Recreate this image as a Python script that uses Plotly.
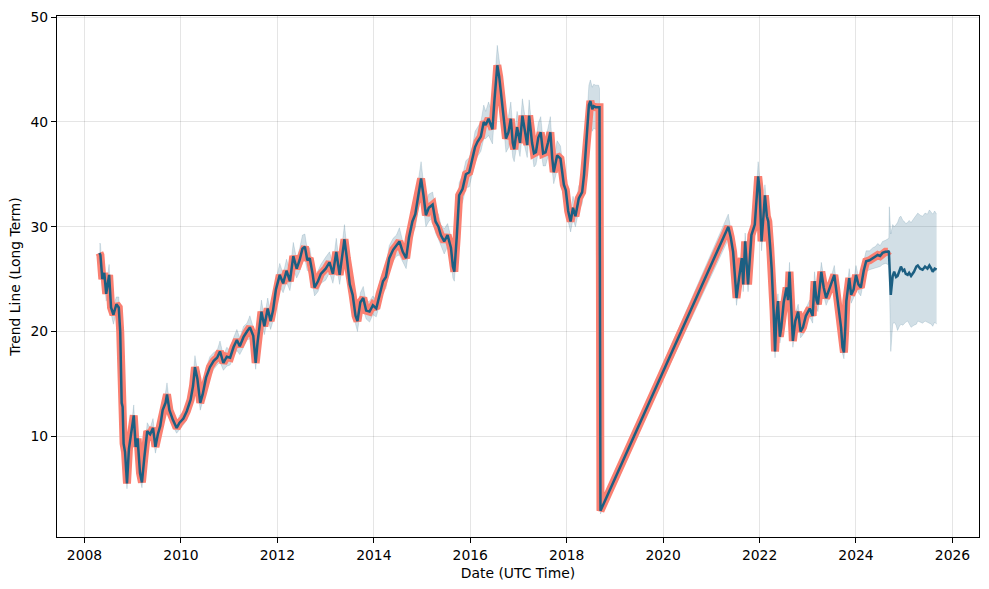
import pandas as pd
import plotly.graph_objects as go

# ---------------- data ----------------
# decimal-year dates of the observed / fitted trend
t_hist = [
    2008.31, 2008.33, 2008.37, 2008.41, 2008.45, 2008.51, 2008.55, 2008.60, 2008.66, 2008.71,
    2008.74, 2008.76, 2008.77, 2008.79, 2008.81, 2008.84, 2008.88, 2008.92, 2008.96, 2009.02,
    2009.06, 2009.10, 2009.15, 2009.19, 2009.24, 2009.30, 2009.36, 2009.42, 2009.47, 2009.52,
    2009.57, 2009.62, 2009.68, 2009.71, 2009.76, 2009.83, 2009.91, 2009.97, 2010.05, 2010.12,
    2010.20, 2010.25, 2010.29, 2010.34, 2010.40, 2010.45, 2010.52, 2010.60, 2010.68, 2010.75,
    2010.81, 2010.88, 2010.95, 2011.02, 2011.09, 2011.16, 2011.22, 2011.30, 2011.37, 2011.43,
    2011.50, 2011.55, 2011.59, 2011.67, 2011.73, 2011.80, 2011.86, 2011.91, 2011.97, 2012.05,
    2012.12, 2012.19, 2012.26, 2012.33, 2012.40, 2012.46, 2012.52, 2012.57, 2012.62, 2012.67,
    2012.73, 2012.77, 2012.84, 2012.90, 2013.00, 2013.08, 2013.15, 2013.22, 2013.29, 2013.35,
    2013.39, 2013.44, 2013.50, 2013.56, 2013.62, 2013.66, 2013.72, 2013.78, 2013.84, 2013.91,
    2013.98, 2014.05, 2014.12, 2014.19, 2014.25, 2014.32, 2014.40, 2014.47, 2014.53, 2014.60,
    2014.67, 2014.73, 2014.80, 2014.86, 2014.92, 2014.98, 2015.03, 2015.08, 2015.14, 2015.22,
    2015.28, 2015.34, 2015.39, 2015.46, 2015.53, 2015.60, 2015.64, 2015.67, 2015.72, 2015.77,
    2015.84, 2015.91, 2015.98, 2016.05, 2016.10, 2016.15, 2016.22, 2016.28, 2016.32, 2016.38,
    2016.46, 2016.50, 2016.56, 2016.60, 2016.63, 2016.69, 2016.74, 2016.79, 2016.84, 2016.88,
    2016.91, 2016.97, 2017.03, 2017.08, 2017.13, 2017.18, 2017.22, 2017.28, 2017.32, 2017.36,
    2017.41, 2017.46, 2017.51, 2017.56, 2017.61, 2017.66, 2017.70, 2017.73, 2017.80, 2017.87,
    2017.94, 2017.98, 2018.03, 2018.08, 2018.13, 2018.18, 2018.25, 2018.32, 2018.36, 2018.39,
    2018.43, 2018.46, 2018.49, 2018.53, 2018.56, 2018.60, 2018.66, 2018.68, 2018.70, 2021.35,
    2021.40, 2021.45, 2021.50, 2021.52, 2021.57, 2021.63, 2021.66, 2021.70, 2021.76, 2021.80,
    2021.83, 2021.90, 2021.94, 2021.97, 2022.00, 2022.04, 2022.08, 2022.11, 2022.15, 2022.18,
    2022.22, 2022.25, 2022.29, 2022.32, 2022.35, 2022.38, 2022.42, 2022.45, 2022.50, 2022.56,
    2022.59, 2022.62, 2022.66, 2022.69, 2022.74, 2022.80, 2022.85, 2022.90, 2022.96, 2023.04,
    2023.10, 2023.14, 2023.18, 2023.21, 2023.28, 2023.33, 2023.38, 2023.43, 2023.49, 2023.55,
    2023.59, 2023.62, 2023.66, 2023.69, 2023.72, 2023.75, 2023.78, 2023.80, 2023.86, 2023.90,
    2023.95, 2024.00, 2024.05, 2024.10, 2024.16, 2024.21, 2024.28, 2024.35, 2024.40, 2024.45,
    2024.50, 2024.55, 2024.61, 2024.66, 2024.68,
]
trend_hist = [
    27.5, 27.3, 25.0, 25.6, 23.6, 25.4, 22.3, 21.6, 22.6, 22.3,
    20.0, 16.6, 13.2, 12.8, 9.3, 8.5, 5.5, 8.8, 10.0, 12.0,
    9.0, 9.8, 6.5, 5.6, 8.0, 10.5, 10.2, 10.8, 9.0, 10.2,
    11.0, 12.5, 13.2, 14.0, 12.5, 11.6, 10.8, 11.3, 11.7, 12.4,
    13.5, 14.8, 16.6, 15.5, 13.2, 14.0, 15.6, 16.6, 17.2, 17.5,
    18.1, 17.0, 17.6, 17.5, 18.5, 19.2, 18.6, 19.5, 20.0, 20.4,
    19.6, 17.0, 19.0, 21.9, 20.5, 22.2, 21.0, 22.0, 24.0, 25.4,
    24.6, 25.8, 24.8, 27.2, 26.0, 26.8, 27.9, 28.1, 26.8, 27.0,
    25.5, 24.2, 24.8, 25.5, 26.0, 26.6, 25.5, 27.6, 25.4, 27.5,
    28.8, 27.0, 24.5, 23.5, 21.5, 21.0, 22.8, 23.2, 22.0, 21.9,
    22.5, 22.2, 23.6, 24.8, 25.2, 27.0, 27.8, 28.2, 28.6, 27.6,
    27.0, 29.0, 30.5, 31.2, 33.0, 34.6, 33.0, 31.1, 31.8, 32.1,
    30.5, 30.0, 29.2, 28.6, 29.2, 28.0, 26.2, 25.7, 29.0, 33.0,
    33.6, 35.0, 35.2, 36.5, 37.6, 38.1, 38.6, 40.0, 39.7, 40.3,
    39.3, 42.0, 45.4, 44.3, 43.1, 41.0, 38.4, 39.0, 40.3, 38.0,
    37.4, 39.5, 38.0, 40.6, 39.0, 37.8, 40.6, 38.0, 37.0, 37.1,
    38.5, 39.0, 37.0, 37.1, 38.0, 39.0, 36.5, 35.2, 36.8, 36.5,
    34.0, 33.5, 31.5, 30.5, 31.8, 31.0, 32.7, 33.3, 35.0, 37.1,
    40.0, 41.6, 42.0, 41.2, 41.5, 41.4, 41.4, 41.4, 2.9, 30.0,
    29.0, 27.6, 24.5, 23.2, 25.0, 27.0, 24.5, 28.6, 24.5, 27.0,
    29.2, 30.2, 32.5, 34.8, 33.5, 28.6, 31.0, 33.0, 31.0, 30.5,
    28.0, 26.0, 22.0, 18.1, 21.5, 22.9, 19.5, 20.4, 22.8, 24.2,
    23.0, 25.7, 22.0, 19.1, 21.0, 21.9, 20.0, 20.4, 21.5, 22.2,
    21.5, 24.8, 23.0, 22.6, 25.7, 24.2, 23.2, 23.8, 24.5, 25.4,
    24.0, 22.9, 21.0, 20.4, 18.5, 18.0, 20.5, 22.9, 25.1, 23.5,
    24.0, 25.4, 24.5, 24.2, 25.8, 26.7, 26.8, 27.0, 27.1, 27.3,
    27.2, 27.5, 27.6, 27.6, 27.7,
]
# half-width of the uncertainty band around the fitted trend (history)
band_halfwidth_hist = [
    0.9, 1.1, 0.6, 1.0, 0.7, 1.0, 0.6, 0.9, 0.7, 1.0,
    0.6, 0.5, 0.5, 0.5, 0.6, 0.6, 0.5, 0.8, 0.6, 1.0,
    0.5, 0.7, 0.5, 0.5, 0.6, 0.8, 0.6, 0.9, 0.6, 0.8,
    0.7, 0.9, 1.0, 1.1, 0.7, 0.6, 0.5, 0.7, 0.6, 0.8,
    0.7, 0.9, 1.1, 0.8, 0.7, 0.7, 0.9, 1.0, 0.8, 0.7,
    1.0, 0.7, 0.9, 0.7, 0.9, 1.0, 0.8, 1.0, 0.8, 1.1,
    0.8, 0.6, 0.8, 1.1, 0.8, 1.0, 0.8, 1.0, 0.9, 1.1,
    0.9, 1.1, 0.9, 1.3, 0.9, 1.1, 1.3, 1.2, 1.0, 1.0,
    0.9, 0.8, 1.0, 0.9, 1.1, 1.0, 0.9, 1.3, 0.9, 1.1,
    1.4, 1.0, 0.9, 0.9, 0.8, 1.0, 0.9, 1.1, 0.8, 1.0,
    0.9, 0.8, 1.1, 1.0, 1.1, 1.2, 1.1, 1.0, 1.3, 1.0,
    1.0, 1.2, 1.2, 1.3, 1.3, 1.6, 1.2, 1.1, 1.3, 1.2,
    1.1, 1.2, 1.0, 1.2, 1.1, 1.0, 1.1, 0.9, 1.2, 1.2,
    1.3, 1.3, 1.4, 1.3, 1.5, 1.4, 1.4, 1.6, 1.3, 1.6,
    1.4, 1.5, 1.9, 1.6, 1.5, 1.4, 1.3, 1.5, 1.6, 1.4,
    1.2, 1.5, 1.3, 1.6, 1.4, 1.2, 1.5, 1.3, 1.3, 1.2,
    1.4, 1.5, 1.2, 1.3, 1.4, 1.5, 1.2, 1.1, 1.4, 1.2,
    1.2, 1.1, 1.0, 1.0, 1.1, 1.0, 1.2, 1.1, 1.3, 1.4,
    1.6, 1.9, 2.0, 2.1, 2.1, 2.1, 2.1, 1.8, 0.3, 1.2,
    0.8, 0.8, 0.7, 0.7, 0.7, 0.8, 0.7, 0.8, 0.7, 0.8,
    0.9, 1.0, 1.1, 1.4, 1.1, 0.9, 1.0, 1.0, 1.0, 0.9,
    0.8, 0.8, 0.7, 0.6, 0.7, 0.7, 0.6, 0.7, 0.8, 0.8,
    0.7, 0.9, 0.7, 0.6, 0.7, 0.7, 0.6, 0.7, 0.7, 0.8,
    0.7, 0.9, 0.7, 0.7, 0.9, 0.8, 0.7, 0.8, 0.8, 0.9,
    0.8, 0.7, 0.7, 0.6, 0.6, 0.6, 0.7, 0.8, 0.9, 0.8,
    0.8, 0.9, 0.8, 0.8, 0.9, 1.0, 0.9, 1.0, 1.0, 1.1,
    1.0, 1.1, 1.1, 1.2, 1.2,
]

# forecast period
t_fc = [
    2024.69, 2024.72, 2024.76, 2024.79, 2024.83, 2024.86, 2024.90, 2024.93, 2024.97, 2025.00,
    2025.03, 2025.07, 2025.10, 2025.14, 2025.20, 2025.25, 2025.28, 2025.33, 2025.38, 2025.43,
    2025.48, 2025.52, 2025.56, 2025.59, 2025.63, 2025.67,
]
trend_fc = [
    26.5, 23.5, 25.3, 25.7, 25.2, 25.3, 25.8, 26.2, 25.8, 25.9,
    25.5, 25.4, 25.6, 25.3, 25.7, 26.2, 26.3, 26.0, 25.9, 26.2,
    26.0, 26.3, 26.0, 25.7, 26.0, 25.9,
]
upper_fc = [
    31.9, 29.3, 30.2, 30.0, 30.2, 30.4, 30.9, 31.0, 30.6, 30.5,
    30.3, 30.4, 30.6, 30.4, 30.8, 31.2, 31.3, 31.1, 31.0, 31.3,
    31.2, 31.6, 31.4, 31.2, 31.5, 31.2,
]
lower_fc = [
    24.8, 18.1, 20.7, 20.9, 20.6, 20.1, 20.5, 20.7, 20.6, 20.8,
    20.9, 21.0, 20.7, 20.4, 20.6, 20.7, 21.0, 20.9, 20.8, 21.0,
    20.9, 20.8, 20.7, 20.5, 20.9, 20.7,
]

x_ticks = [2008, 2010, 2012, 2014, 2016, 2018, 2020, 2022, 2024, 2026]
y_ticks = [10, 20, 30, 40, 50]
x_lim = [2007.43, 2026.55]
y_lim = [0.4, 50.1]

# ---------------- helpers ----------------
def to_date(y):
    year = int(y)
    start = pd.Timestamp(year=year, month=1, day=1)
    end = pd.Timestamp(year=year + 1, month=1, day=1)
    return start + (end - start) * (y - year)

d_hist = [to_date(v) for v in t_hist]
d_fc = [to_date(v) for v in t_fc]

upper_hist = [v + w for v, w in zip(trend_hist, band_halfwidth_hist)]
lower_hist = [v - w for v, w in zip(trend_hist, band_halfwidth_hist)]

d_all = d_hist + d_fc
trend_all = trend_hist + trend_fc
upper_all = upper_hist + upper_fc
lower_all = lower_hist + lower_fc

LINE = "#1c5f82"
BAND = "rgba(31,95,128,0.2)"
SALMON = "#fa8072"

fig = go.Figure()
fig.add_trace(go.Scatter(x=d_all, y=upper_all, mode="lines", line=dict(width=0.8, color="rgba(31,95,128,0.2)"),
                         showlegend=False, hoverinfo="skip"))
fig.add_trace(go.Scatter(x=d_all, y=lower_all, mode="lines", line=dict(width=0.8, color="rgba(31,95,128,0.2)"),
                         fill="tonexty", fillcolor=BAND, showlegend=False, hoverinfo="skip"))
fig.add_trace(go.Scatter(x=d_hist, y=trend_hist, mode="lines",
                         line=dict(width=8, color=SALMON), showlegend=False))
fig.add_trace(go.Scatter(x=d_all, y=trend_all, mode="lines",
                         line=dict(width=2.5, color=LINE), showlegend=False))

font = dict(family="DejaVu Sans", size=13.9, color="black")
fig.update_layout(
    width=989, height=589,
    margin=dict(l=57, r=9, t=13, b=52),
    paper_bgcolor="white", plot_bgcolor="white",
    font=font,
    xaxis=dict(
        range=[to_date(x_lim[0]), to_date(x_lim[1])],
        tickvals=[to_date(v) for v in x_ticks],
        ticktext=[str(v) for v in x_ticks],
        showline=True, linecolor="black", linewidth=1, mirror=True,
        ticks="outside", ticklen=5, tickcolor="black",
        showgrid=True, gridcolor="rgba(0,0,0,0.1)", gridwidth=1,
        zeroline=False,
        title=dict(text="Date (UTC Time)", standoff=6, font=font),
    ),
    yaxis=dict(
        range=y_lim,
        tickvals=y_ticks,
        showline=True, linecolor="black", linewidth=1, mirror=True,
        ticks="outside", ticklen=5, tickcolor="black",
        showgrid=True, gridcolor="rgba(0,0,0,0.1)", gridwidth=1,
        zeroline=False,
        title=dict(text="Trend Line (Long Term)", standoff=6, font=font),
    ),
)

fig.write_html("out.html")
